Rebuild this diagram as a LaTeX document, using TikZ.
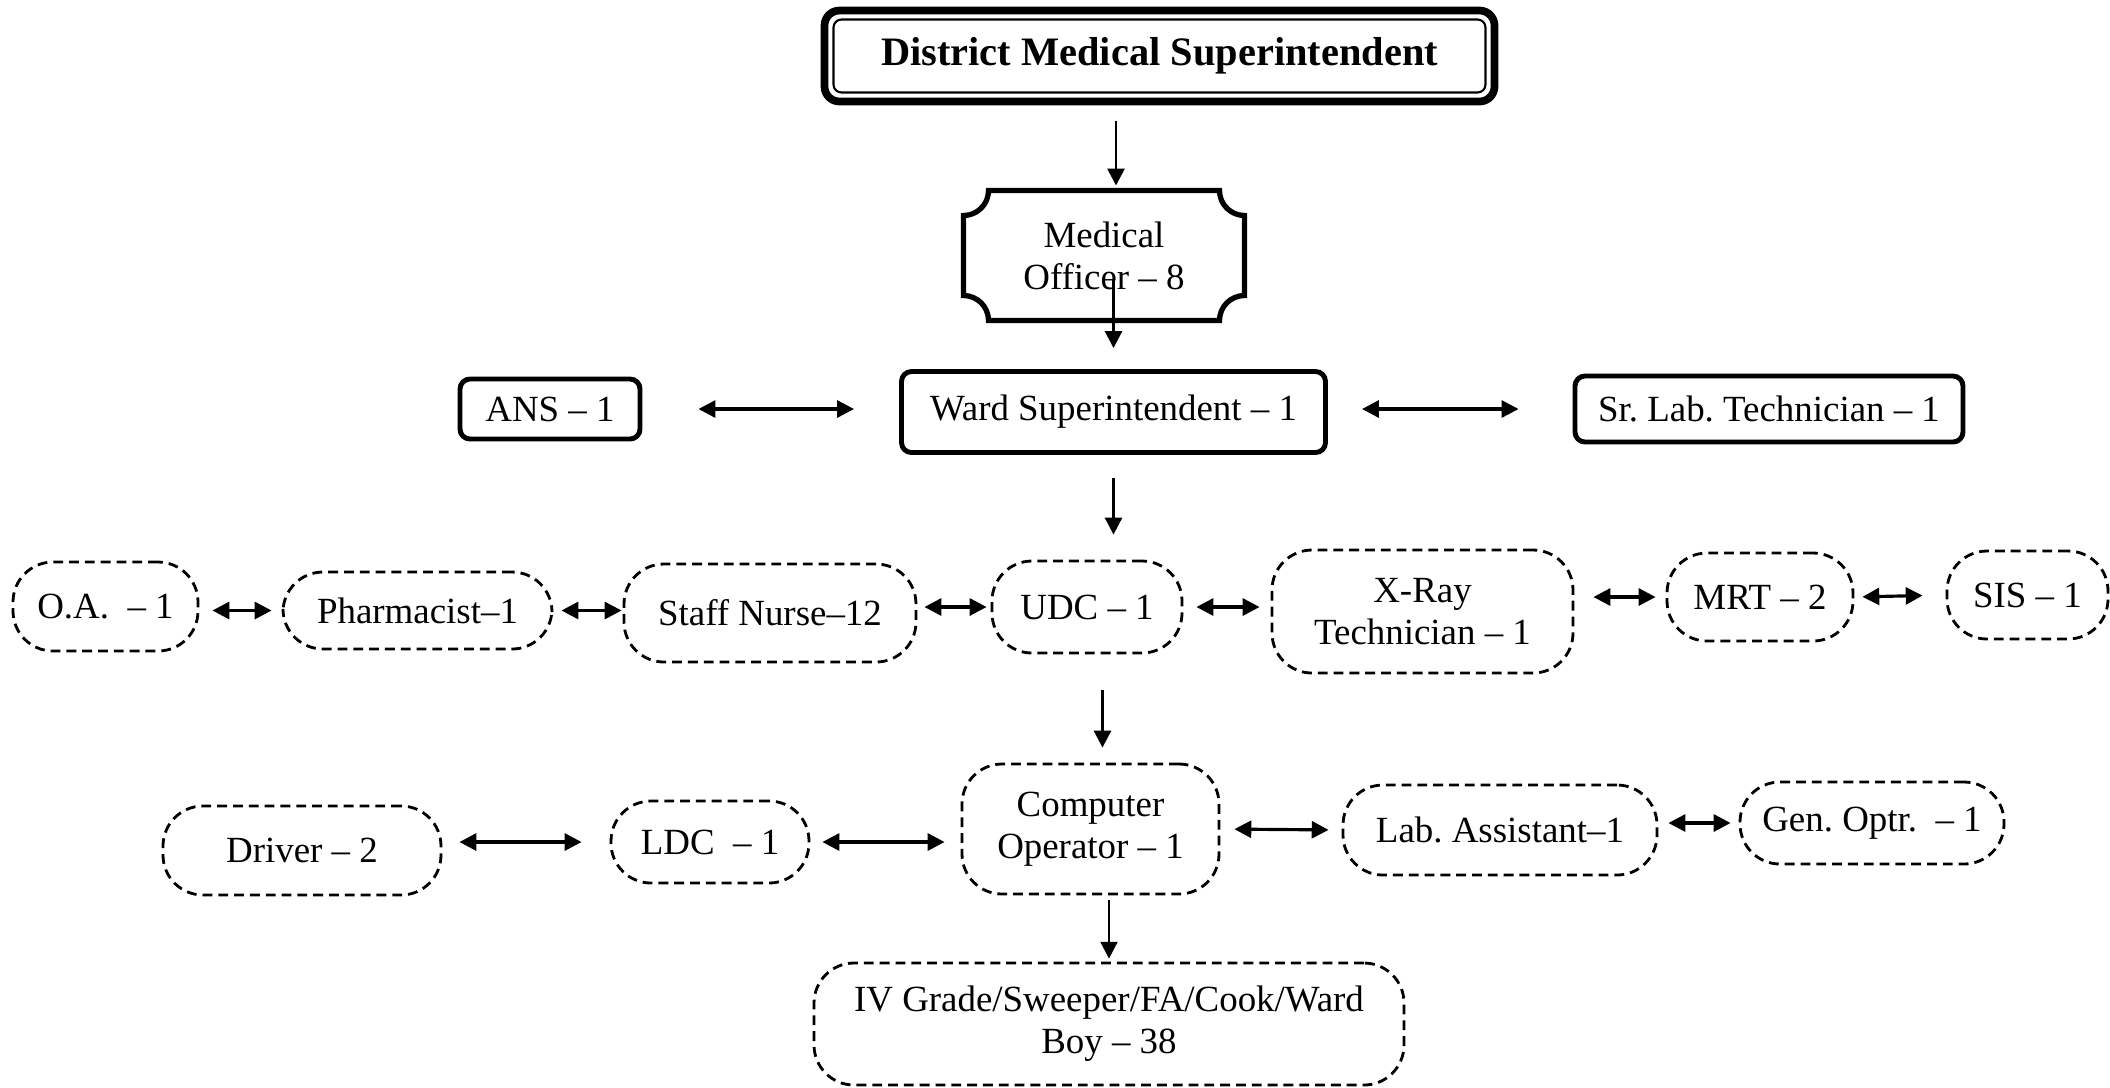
\documentclass[tikz,border=0pt]{standalone}
\usepackage{fontspec}
\setmainfont{Liberation Serif}
\usetikzlibrary{arrows.meta}
\frenchspacing

\tikzset{
  topbox/.style={draw, line width=2.2pt, rounded corners=1.5mm, outer sep=0pt,
    minimum width=6.70cm, minimum height=0.91cm,
    font=\bfseries\fontsize{11.5}{14}\selectfont},
  postbox/.style={draw, line width=1.4pt, rounded corners=1mm, inner sep=0pt},
  staffbox/.style={draw, line width=0.8pt, dash pattern=on 2.8pt off 1.7pt,
    rounded corners=4mm, inner sep=0pt, align=center},
  downlink/.style={->, line width=0.8pt},
  sidelink/.style={<->, line width=0.9pt},
}

\begin{document}
\begin{tikzpicture}[>={Triangle[length=4.8pt,width=4.8pt]}, font=\fontsize{10.5}{12}\selectfont]
  \useasboundingbox (0,0) rectangle (21.1,-10.87);

  % Head of the hospital, double frame
  \node[topbox] (dms) at (11.595,-0.56) {District Medical Superintendent};
  \draw[line width=0.6pt, rounded corners=0.8mm]
    ([shift={(0.09,-0.09)}]dms.north west) rectangle ([shift={(-0.09,0.09)}]dms.south east);

  % Medical officers, frame with notched corners
  \node[align=center, minimum width=2.81cm, minimum height=1.30cm, outer sep=0pt]
    (mo) at (11.04,-2.555) {Medical\\Officer – 8};
  \draw[line width=1.5pt] ([xshift=2.5mm]mo.north west) -- ([xshift=-2.5mm]mo.north east)
    arc[start angle=180, end angle=270, radius=2.5mm]
    -- ([yshift=2.5mm]mo.south east)
    arc[start angle=90, end angle=180, radius=2.5mm]
    -- ([xshift=2.5mm]mo.south west)
    arc[start angle=0, end angle=90, radius=2.5mm]
    -- ([yshift=-2.5mm]mo.north west)
    arc[start angle=270, end angle=360, radius=2.5mm]
    -- cycle;

  % Ward level
  \node[postbox, minimum width=1.80cm, minimum height=0.60cm] (ans) at (5.50,-4.09) {ANS – 1};
  \node[postbox, minimum width=4.24cm, minimum height=0.81cm] (ws) at (11.135,-4.12) {Ward Superintendent – 1};
  \node[postbox, minimum width=3.88cm, minimum height=0.66cm] (slt) at (17.69,-4.09) {Sr. Lab. Technician – 1};

  % Clerical and paramedical staff
  \node[staffbox, minimum width=1.85cm, minimum height=0.89cm] (oa) at (1.055,-6.065) {O.A.\ \ – 1};
  \node[staffbox, minimum width=2.69cm, minimum height=0.77cm] (pharm) at (4.175,-6.105) {Pharmacist–1};
  \node[staffbox, minimum width=2.92cm, minimum height=0.98cm] (sn) at (7.70,-6.13) {Staff Nurse–12};
  \node[staffbox, minimum width=1.90cm, minimum height=0.92cm] (udc) at (10.87,-6.07) {UDC – 1};
  \node[staffbox, minimum width=3.01cm, minimum height=1.23cm] (xray) at (14.225,-6.115) {X-Ray\\Technician – 1};
  \node[staffbox, minimum width=1.86cm, minimum height=0.88cm] (mrt) at (17.60,-5.97) {MRT – 2};
  \node[staffbox, minimum width=1.61cm, minimum height=0.88cm] (sis) at (20.275,-5.95) {SIS – 1};

  \node[staffbox, minimum width=2.78cm, minimum height=0.89cm] (driver) at (3.02,-8.505) {Driver – 2};
  \node[staffbox, minimum width=1.98cm, minimum height=0.82cm] (ldc) at (7.10,-8.42) {LDC\ \ – 1};
  \node[staffbox, minimum width=2.57cm, minimum height=1.30cm] (co) at (10.905,-8.29) {Computer\\Operator – 1};
  \node[staffbox, minimum width=3.14cm, minimum height=0.90cm] (laba) at (15.00,-8.30) {Lab. Assistant–1};
  \node[staffbox, minimum width=2.64cm, minimum height=0.82cm] (gen) at (18.72,-8.23) {Gen. Optr.\ \ – 1};

  \node[staffbox, minimum width=5.90cm, minimum height=1.22cm] (ivg) at (11.09,-10.24)
    {IV Grade/Sweeper/FA/Cook/Ward\\Boy – 38};

  % Chain of command
  \draw[downlink, shorten <=1.9mm, shorten >=0.5mm] ([xshift=1.2mm]mo.north |- dms.south) -- ([xshift=1.2mm]mo.north);
  \draw[downlink, shorten >=2.1mm] ([yshift=-2.4mm]ws.north |- mo.center) -- (ws.north);
  \draw[downlink, shorten <=2.3mm, shorten >=2.5mm] (ws.south) -- (ws.south |- udc.north);
  \draw[downlink, shorten <=3.6mm, shorten >=1.5mm] ([xshift=1.2mm]co.north |- udc.south) -- ([xshift=1.2mm]co.north);
  \draw[downlink, shorten <=0.5mm, shorten >=0.3mm] (ivg.north |- co.south) -- (ivg.north);

  % Links between posts on one level
  \draw[sidelink, shorten <=5.6mm, shorten >=4.5mm] (ans.east) -- (ans.east -| ws.west);
  \draw[sidelink, shorten <=3.4mm, shorten >=5.4mm] (ws.east |- slt.west) -- (slt.west);

  \draw[sidelink, shorten <=1.3mm, shorten >=1.0mm] (oa.east |- pharm.west) -- (pharm.west);
  \draw[sidelink, shorten <=0.8mm, shorten >=0.1mm] (pharm.east) -- (pharm.east -| sn.west);
  \draw[sidelink, shorten <=0.7mm, shorten >=0.4mm] (sn.east |- udc.west) -- (udc.west);
  \draw[sidelink, shorten <=1.3mm, shorten >=1.1mm] (udc.east) -- (udc.east -| xray.west);
  \draw[sidelink, shorten <=1.9mm, shorten >=1.0mm] (xray.east |- mrt.west) -- (mrt.west);
  \draw[sidelink, shorten <=0.8mm, shorten >=2.3mm] (mrt.east) -- (sis.west);

  \draw[sidelink, shorten <=1.7mm, shorten >=2.8mm] (driver.east |- ldc.west) -- (ldc.west);
  \draw[sidelink, shorten <=1.2mm, shorten >=1.6mm] (ldc.east) -- (ldc.east -| co.west);
  \draw[sidelink, shorten <=1.4mm, shorten >=1.3mm] (co.east) -- (laba.west);
  \draw[sidelink, shorten <=1.0mm, shorten >=0.8mm] (laba.east |- gen.west) -- (gen.west);
\end{tikzpicture}
\end{document}
